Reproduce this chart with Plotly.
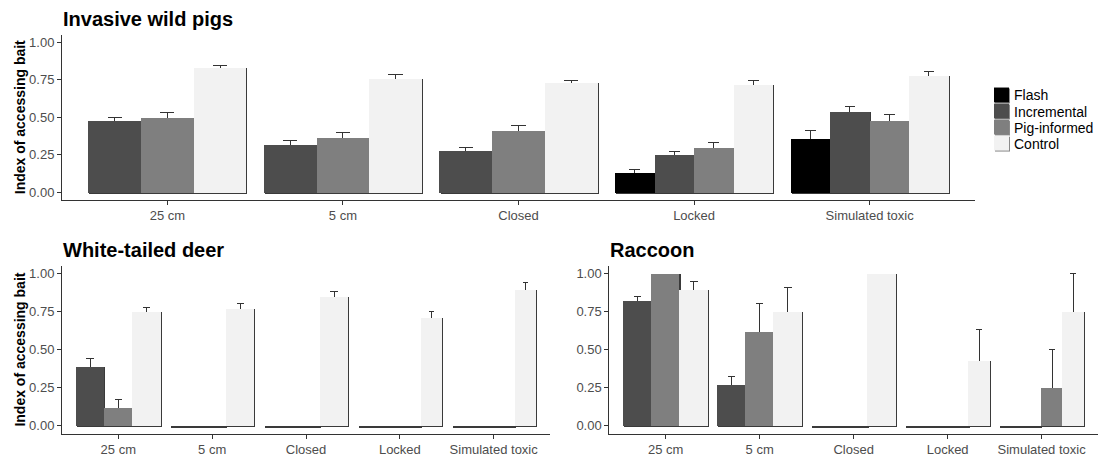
import plotly.graph_objects as go

# ---------------- data ----------------
categories = ["25 cm", "5 cm", "Closed", "Locked", "Simulated toxic"]
treatments = ["Flash", "Incremental", "Pig-informed", "Control"]
y_ticks = [0, 0.25, 0.5, 0.75, 1.0]
y_tick_labels = ["0.00", "0.25", "0.50", "0.75", "1.00"]

pigs_flash = [None, None, None, 0.13, 0.36]
pigs_flash_se = [None, None, None, 0.022, 0.049]
pigs_incremental = [0.48, 0.32, 0.28, 0.25, 0.54]
pigs_incremental_se = [0.02, 0.022, 0.016, 0.022, 0.033]
pigs_piginformed = [0.50, 0.365, 0.41, 0.30, 0.48]
pigs_piginformed_se = [0.032, 0.036, 0.037, 0.033, 0.037]
pigs_control = [0.83, 0.76, 0.73, 0.72, 0.78]
pigs_control_se = [0.018, 0.023, 0.018, 0.022, 0.027]

deer_flash = [None, None, None, 0, 0]
deer_flash_se = [None, None, None, 0, 0]
deer_incremental = [0.39, 0, 0, 0, 0]
deer_incremental_se = [0.05, 0, 0, 0, 0]
deer_piginformed = [0.12, 0, 0, 0, 0]
deer_piginformed_se = [0.055, 0, 0, 0, 0]
deer_control = [0.75, 0.77, 0.85, 0.71, 0.89]
deer_control_se = [0.028, 0.032, 0.028, 0.041, 0.052]

raccoon_flash = [None, None, None, 0, 0]
raccoon_flash_se = [None, None, None, 0, 0]
raccoon_incremental = [0.82, 0.27, 0, 0, 0]
raccoon_incremental_se = [0.03, 0.051, 0, 0, 0]
raccoon_piginformed = [1.0, 0.62, 0, 0, 0.25]
raccoon_piginformed_se = [0, 0.185, 0, 0, 0.25]
raccoon_control = [0.89, 0.75, 1.0, 0.43, 0.75]
raccoon_control_se = [0.055, 0.16, 0, 0.2, 0.25]

# ---------------- style ----------------
W, H = 1098, 457
FONT = "Liberation Sans, Arial, sans-serif"
colors = {"Flash": "#000000", "Incremental": "#4D4D4D",
          "Pig-informed": "#7F7F7F", "Control": "#F2F2F2"}
SHADOW = "#3a3a3a"
ERR = "#333333"


def px_x(v):
    return v / W


def px_y(v):
    return 1 - v / H


# panel geometry in pixels: (left, right, top, bottom)
panels = [
    dict(name="Invasive wild pigs", px=(62, 975, 35, 201.6), ax="x", ay="y",
         vals=[pigs_flash, pigs_incremental, pigs_piginformed, pigs_control],
         ses=[pigs_flash_se, pigs_incremental_se, pigs_piginformed_se, pigs_control_se],
         ytitle=True),
    dict(name="White-tailed deer", px=(62, 550, 268, 437.4), ax="x2", ay="y2",
         vals=[deer_flash, deer_incremental, deer_piginformed, deer_control],
         ses=[deer_flash_se, deer_incremental_se, deer_piginformed_se, deer_control_se],
         ytitle=True),
    dict(name="Raccoon", px=(609.3, 1098, 268, 437.4), ax="x3", ay="y3",
         vals=[raccoon_flash, raccoon_incremental, raccoon_piginformed, raccoon_control],
         ses=[raccoon_flash_se, raccoon_incremental_se, raccoon_piginformed_se, raccoon_control_se],
         ytitle=False),
]

XR = [0.4, len(categories) + 0.6]
YR = [-0.05, 1.05]
DODGE = 0.9

fig = go.Figure()

for p in panels:
    l, r, t, b = p["px"]
    ppu_x = (r - l) / (XR[1] - XR[0])
    ppu_y = (b - t) / (YR[1] - YR[0])
    dx = 1.1 / ppu_x
    dy = 1.1 / ppu_y
    for ci, cat in enumerate(categories):
        present = [ti for ti in range(len(treatments)) if p["vals"][ti][ci] is not None]
        n = len(present)
        w = DODGE / n
        for k, ti in enumerate(present):
            tr = treatments[ti]
            v = p["vals"][ti][ci]
            se = p["ses"][ti][ci]
            xc = (ci + 1) - DODGE / 2 + (k + 0.5) * w
            if se:
                cap = 0.135 * w * ppu_x
                # transparent bar carrying a symmetric error bar; the real bar drawn
                # afterwards hides the lower half (as in the original figure)
                fig.add_trace(go.Bar(
                    x=[xc], y=[v], width=[w],
                    marker=dict(color="rgba(0,0,0,0)", line=dict(width=0)),
                    error_y=dict(type="data", array=[se], color=ERR, thickness=1, width=cap),
                    xaxis=p["ax"], yaxis=p["ay"], showlegend=False, hoverinfo="skip"))
            # drop shadow
            fig.add_trace(go.Bar(
                x=[xc + dx], y=[v + dy], base=[-dy], width=[w],
                marker=dict(color=SHADOW, line=dict(width=0)), opacity=1,
                xaxis=p["ax"], yaxis=p["ay"], showlegend=False, hoverinfo="skip"))
            fig.add_trace(go.Bar(
                x=[xc], y=[v], width=[w], name=tr, legendgroup=tr, showlegend=False,
                marker=dict(color=colors[tr], line=dict(width=0)), opacity=1,
                xaxis=p["ax"], yaxis=p["ay"],
                hovertemplate=f"{cat}<br>{tr}: %{{y:.2f}}<extra></extra>"))

layout = dict(
    width=W, height=H, autosize=False,
    margin=dict(l=0, r=0, t=0, b=0),
    paper_bgcolor="white", plot_bgcolor="white",
    barmode="overlay", bargap=0,
    font=dict(family=FONT, size=13, color="#4D4D4D"),
    showlegend=False,
)

annotations = []
shapes = []
for i, p in enumerate(panels):
    l, r, t, b = p["px"]
    sfx = "" if i == 0 else str(i + 1)
    layout["xaxis" + sfx] = dict(
        domain=[px_x(l), min(1, px_x(r))], range=XR, anchor=p["ay"],
        tickmode="array", tickvals=list(range(1, len(categories) + 1)), ticktext=categories,
        showline=True, linecolor="#333333", linewidth=1,
        ticks="outside", ticklen=4, tickcolor="#333333", tickwidth=1,
        showgrid=False, zeroline=False,
        tickfont=dict(family=FONT, size=13, color="#4D4D4D"), fixedrange=True)
    layout["yaxis" + sfx] = dict(
        domain=[px_y(b), px_y(t)], range=YR, anchor=p["ax"],
        tickmode="array", tickvals=y_ticks, ticktext=y_tick_labels,
        showline=True, linecolor="#333333", linewidth=1,
        ticks="outside", ticklen=4, tickcolor="#333333", tickwidth=1,
        showgrid=False, zeroline=False,
        tickfont=dict(family=FONT, size=13, color="#4D4D4D"), fixedrange=True)
    annotations.append(dict(
        text=f"<b>{p['name']}</b>", xref="paper", yref="paper",
        x=px_x(l - 1), y=px_y(t - 16), xanchor="left", yanchor="middle",
        showarrow=False, font=dict(family=FONT, size=20, color="black")))
    if p["ytitle"]:
        annotations.append(dict(
            text="<b>Index of accessing bait</b>", xref="paper", yref="paper",
            x=px_x(20), y=px_y((t + b) / 2), xanchor="center", yanchor="middle",
            textangle=-90, showarrow=False,
            font=dict(family=FONT, size=14, color="black")))

# legend (keys with the same drop shadow as the bars)
LEG_X, LEG_Y, KEY, ROW = 994, 88.3, 15, 16.2
for i, tr in enumerate(treatments):
    y0 = LEG_Y + i * ROW
    shapes.append(dict(type="rect", xref="paper", yref="paper",
                       x0=px_x(LEG_X + 1), x1=px_x(LEG_X + KEY + 1),
                       y0=px_y(y0 + KEY + 1), y1=px_y(y0 + 1),
                       fillcolor="#8a8a8a", line=dict(width=0), layer="above"))
    shapes.append(dict(type="rect", xref="paper", yref="paper",
                       x0=px_x(LEG_X), x1=px_x(LEG_X + KEY),
                       y0=px_y(y0 + KEY), y1=px_y(y0),
                       fillcolor=colors[tr], line=dict(width=0), layer="above"))
    annotations.append(dict(
        text=tr, xref="paper", yref="paper",
        x=px_x(1011.5), y=px_y(y0 + KEY / 2 + 0.5), xanchor="left", yanchor="middle",
        showarrow=False, font=dict(family=FONT, size=14, color="black")))

layout["annotations"] = annotations
layout["shapes"] = shapes
fig.update_layout(**layout)
# remove the browser's default 8px body margin so the figure fills the window exactly
fig.write_html("out.html", config={"displayModeBar": False},
               post_script="document.body.style.margin='0';")
